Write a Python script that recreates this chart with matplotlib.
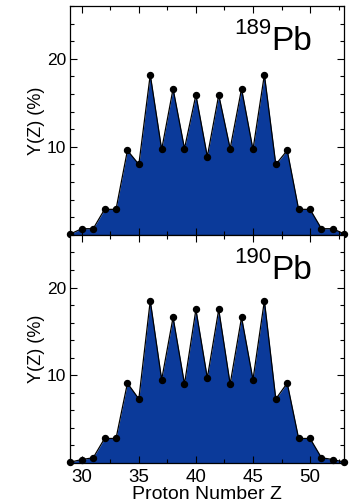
import numpy as np
import matplotlib
matplotlib.use('Agg')
import matplotlib.pyplot as plt
from matplotlib.ticker import MultipleLocator

plt.rcParams['font.family'] = ['Liberation Sans', 'DejaVu Sans']

# charge yields Y(Z) in percent for the two lead isotopes
Z = np.arange(29, 54)
yield_189 = [0.1, 0.7, 0.7, 2.9, 2.9, 9.6, 8.0, 18.2, 9.7, 16.6, 9.8, 15.9, 8.9,
             15.9, 9.8, 16.6, 9.7, 18.2, 8.0, 9.6, 2.9, 2.9, 0.7, 0.7, 0.1]
yield_190 = [0.1, 0.4, 0.6, 2.8, 2.8, 9.1, 7.3, 18.5, 9.5, 16.6, 9.0, 17.5, 9.7,
             17.5, 9.0, 16.6, 9.5, 18.5, 7.3, 9.1, 2.8, 2.8, 0.6, 0.4, 0.1]
mass_nums = ['189', '190']

fill_col = '#0b3a9a'

fig = plt.figure(figsize=(3.59, 5.04), dpi=100)
ax1 = fig.add_axes([0.196, 0.534, 0.763, 0.454])
ax2 = fig.add_axes([0.196, 0.0813, 0.763, 0.4527])

for ax, yv, A in zip([ax1, ax2], [yield_189, yield_190], mass_nums):
    ax.fill_between(Z, 0, yv, color=fill_col, lw=0)
    ax.plot(Z, yv, '-o', color='black', lw=0.9, ms=4.3, clip_on=False, zorder=3)
    ax.set_xlim(29, 53)
    ax.set_ylim(0, 26)
    ax.xaxis.set_major_locator(MultipleLocator(5))
    ax.xaxis.set_minor_locator(MultipleLocator(2.5))
    ax.yaxis.set_major_locator(MultipleLocator(10))
    ax.yaxis.set_minor_locator(MultipleLocator(2))
    ax.set_yticks([10, 20])
    ax.tick_params(which='both', direction='in', top=True, right=True, width=0.8)
    ax.tick_params(which='major', length=5, labelsize=12.5, pad=3)
    ax.tick_params(which='minor', length=2.8)
    for s in ax.spines.values():
        s.set_linewidth(0.9)
    ax.set_ylabel('Y(Z) (%)', fontsize=13, labelpad=1)
    # isotope label: mass number as superscript before the symbol
    ax.text(0.735, 0.806, 'Pb', transform=ax.transAxes, ha='left', va='baseline',
            fontsize=24)
    ax.text(0.733, 0.877, A, transform=ax.transAxes, ha='right', va='baseline',
            fontsize=16)

ax1.tick_params(axis='x', labelbottom=False)
ax2.tick_params(axis='x', labelsize=13.5, pad=4)
ax2.set_xlabel('Proton Number Z', fontsize=14, labelpad=0)

fig.savefig('out.png', dpi=100)
